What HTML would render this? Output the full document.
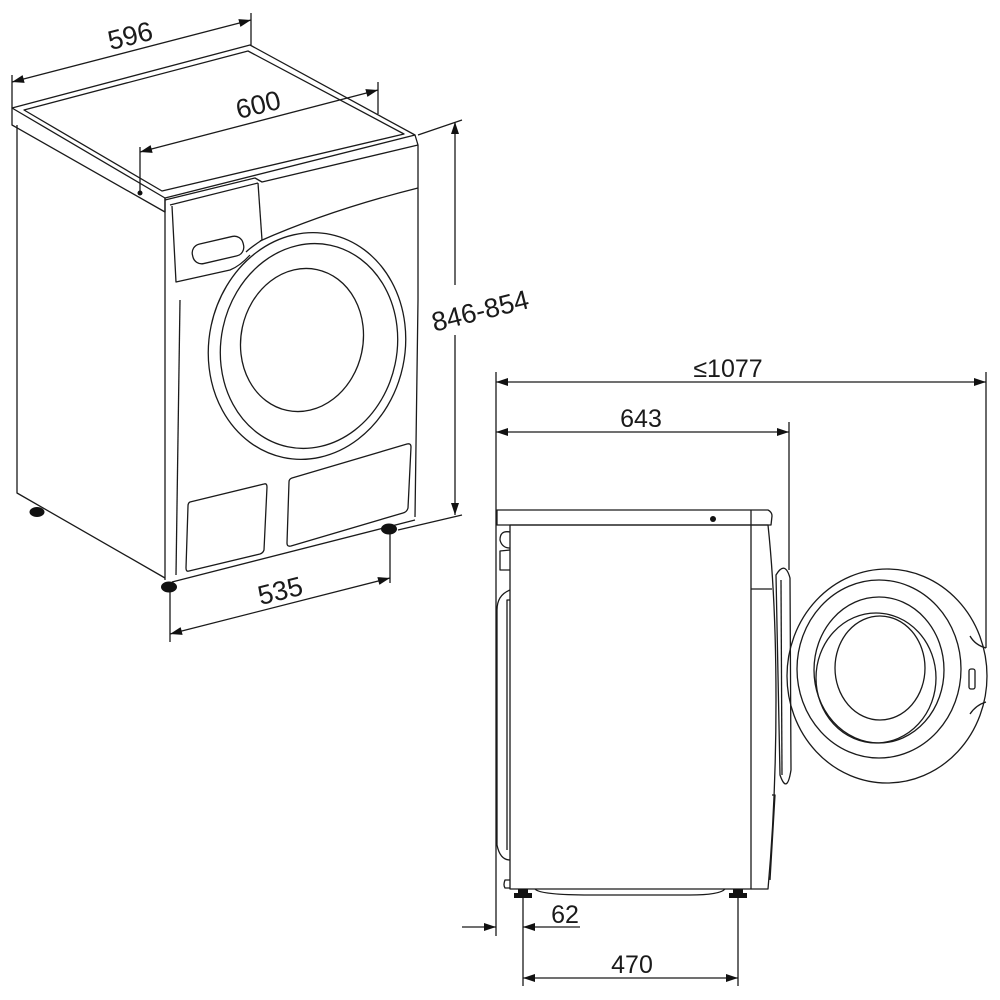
<!DOCTYPE html>
<html><head><meta charset="utf-8"><style>
html,body{margin:0;padding:0;background:#fff;}
svg{display:block;}
text{font-family:"Liberation Sans",sans-serif;fill:#1a1a1a;}
</style></head><body>
<svg width="1000" height="1000" viewBox="0 0 1000 1000" xmlns="http://www.w3.org/2000/svg">
<defs>
<marker id="a" viewBox="0 0 12 8" refX="12" refY="4" markerWidth="13" markerHeight="8" orient="auto-start-reverse" markerUnits="userSpaceOnUse"><path d="M0,0 L12,4 L0,8 Z" fill="#111"/></marker>
</defs>
<g fill="none" stroke="#1a1a1a" stroke-width="1.3" stroke-linejoin="round">
<path d="M12,108 L250,45 L415,135 L165,198 Z"/>
<path d="M24,110 L248,51 L404,134 L162,191 Z"/>
<path d="M12,108 L12,125 L165,212 L165,198"/>
<path d="M17,125 L17,493 L165,578"/>
<path d="M165,198 L165,580"/>
<path d="M415,135 L418,145 L418,300 L415,517"/>
<path d="M172,582 L415,520"/>
<path d="M180,300 L176,575"/>
<path d="M165,200 L255,178 L262,182 L418,145"/>
<path d="M170,205 L258,183"/>
<path d="M172,206 L176,282 L230,270 Q240,266 250,255"/>
<path d="M258,183 L262,240"/>
<path d="M262,240 Q250,248 246,252"/>
<rect x="192" y="240" width="52" height="20" rx="9" transform="rotate(-13 218 250)"/>
<path d="M260,241 Q330,210 418,188"/>
<ellipse cx="307" cy="346" rx="98" ry="114" transform="rotate(12 307 346)"/>
<ellipse cx="309" cy="346" rx="88" ry="103" transform="rotate(12 309 346)"/>
<ellipse cx="302" cy="340" rx="61" ry="72" transform="rotate(12 302 340)"/>
<path d="M190,502 L264,484 Q267,483 267,487 L264,550 Q263,553 260,554 L189,571 Q186,572 186,568 L188,506 Q188,503 190,502 Z"/>
<path d="M292,478 L407,444 Q411,443 411,447 L408,508 Q407,512 403,513 L291,546 Q287,547 287,543 L289,482 Q289,479 292,478 Z"/>
<line x1="12" y1="75" x2="12" y2="108"/>
<line x1="251" y1="13" x2="251" y2="45"/>
<line x1="12" y1="82" x2="251" y2="20" marker-start="url(#a)" marker-end="url(#a)"/>
<line x1="140" y1="147" x2="140" y2="193"/>
<line x1="378" y1="82" x2="378" y2="114"/>
<line x1="140" y1="152" x2="378" y2="90" marker-start="url(#a)" marker-end="url(#a)"/>
<line x1="418" y1="135" x2="462" y2="120"/>
<line x1="398" y1="530" x2="462" y2="515"/>
<line x1="455" y1="122" x2="455" y2="285" marker-start="url(#a)"/>
<line x1="455" y1="335" x2="455" y2="515" marker-end="url(#a)"/>
<line x1="170" y1="588" x2="170" y2="642"/>
<line x1="390" y1="533" x2="390" y2="583"/>
<line x1="170" y1="634" x2="390" y2="578" marker-start="url(#a)" marker-end="url(#a)"/>
</g>
<circle cx="140" cy="193" r="2.5" fill="#111"/>
<ellipse cx="37" cy="512" rx="7.5" ry="5" fill="#111"/>
<ellipse cx="169" cy="587" rx="8" ry="5.5" fill="#111"/>
<ellipse cx="389" cy="529" rx="8" ry="5.5" fill="#111"/>
<text x="130" y="45" font-size="27" transform="rotate(-14 130 35)" text-anchor="middle">596</text>
<text x="258" y="114" font-size="27" transform="rotate(-14 258 104)" text-anchor="middle">600</text>
<text x="280" y="600" font-size="27" transform="rotate(-14 280 590)" text-anchor="middle">535</text>
<text x="480" y="320" font-size="27" transform="rotate(-14 480 310)" text-anchor="middle">846-854</text>

<g fill="none" stroke="#1a1a1a" stroke-width="1.3" stroke-linejoin="round">
<path d="M497,510 L768,510 Q772,512 772,516 L771,525 L497,525 Z"/>
<line x1="751" y1="510" x2="751" y2="525"/>
<rect x="510" y="525" width="241" height="364"/>
<path d="M751,525 L768,525 Q776,600 776,700 Q776,800 768,889 L751,889"/>
<path d="M751,589 L772,589"/>
<path d="M776,575 Q785,560 790,578 L791,770 Q787,795 780,775 Z"/>
<path d="M781,580 L782,775"/>
<path d="M772,795 L775,795 L770,880"/>
<path d="M510,532 Q500,530 500,540 Q502,548 510,548"/>
<path d="M510,550 L500,551 L500,570 L510,570"/>
<path d="M510,590 Q497,595 497,610 L497,845 Q500,860 510,860"/>
<path d="M510,600 L507,600 L507,850"/>
<path d="M510,880 L505,880 Q503,885 505,888 L510,888"/>
<path d="M535,889 Q540,895 590,895 L690,895 Q720,895 725,889"/>
<ellipse cx="887" cy="676" rx="100" ry="107"/>
<ellipse cx="879" cy="669" rx="82" ry="89"/>
<ellipse cx="879" cy="670" rx="65" ry="73"/>
<ellipse cx="876" cy="678" rx="60" ry="65"/>
<ellipse cx="880" cy="668" rx="45" ry="52"/>
<path d="M970,636 Q975,645 986,648"/>
<path d="M970,714 Q976,705 986,702"/>
<rect x="969" y="669" width="6" height="20" rx="2"/>
<line x1="496" y1="372" x2="496" y2="936"/>
<line x1="986" y1="372" x2="986" y2="648"/>
<line x1="789" y1="422" x2="789" y2="570"/>
<line x1="496" y1="382" x2="986" y2="382" marker-start="url(#a)" marker-end="url(#a)"/>
<line x1="496" y1="432" x2="789" y2="432" marker-start="url(#a)" marker-end="url(#a)"/>
<line x1="523" y1="893" x2="523" y2="986"/>
<line x1="738" y1="893" x2="738" y2="986"/>
<line x1="523" y1="978" x2="738" y2="978" marker-start="url(#a)" marker-end="url(#a)"/>
<line x1="462" y1="927" x2="496" y2="927" marker-end="url(#a)"/>
<line x1="580" y1="927" x2="523" y2="927" marker-end="url(#a)"/>
</g>
<circle cx="713" cy="519" r="3" fill="#111"/>
<path d="M518,889 L528,889 L528,893 L532,893 L532,898 L514,898 L514,893 L518,893 Z" fill="#111"/>
<path d="M733,889 L743,889 L743,893 L747,893 L747,898 L729,898 L729,893 L733,893 Z" fill="#111"/>
<text x="728" y="377" font-size="25" text-anchor="middle">≤1077</text>
<text x="641" y="427" font-size="25" text-anchor="middle">643</text>
<text x="565" y="923" font-size="25" text-anchor="middle">62</text>
<text x="632" y="973" font-size="25" text-anchor="middle">470</text>
</svg>
</body></html>
